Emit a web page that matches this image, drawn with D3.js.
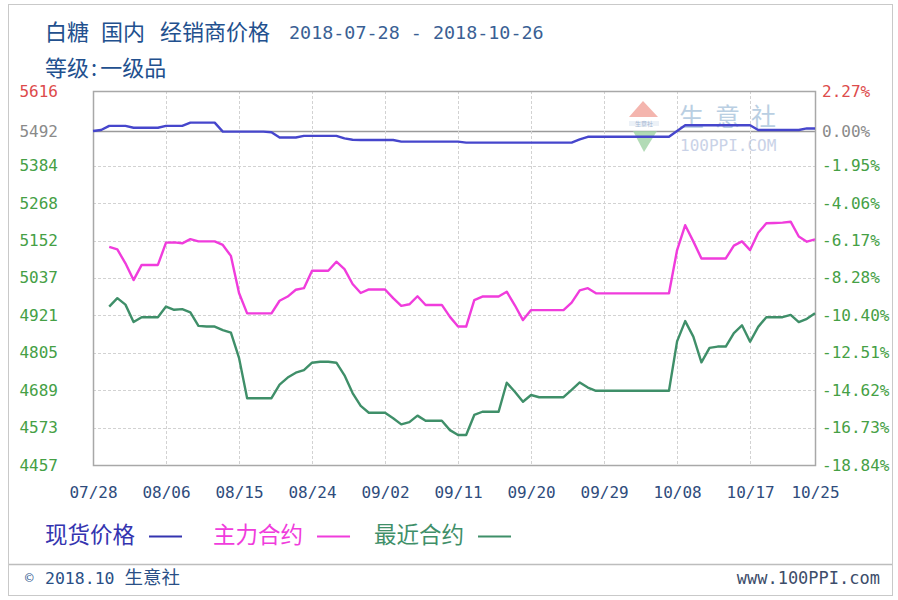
<!DOCTYPE html>
<html>
<head>
<meta charset="utf-8">
<script src="https://cdn.jsdelivr.net/npm/d3@7"></script>
<style>
  html, body { margin: 0; padding: 0; background: #fff; }
  svg { display: block; }
</style>
</head>
<body>
<svg id="chart" width="898" height="600"></svg>
<script>
// ---- data: daily values from 2018-07-28 (weekends and holidays carry the last quote) ----
const startDate = "2018-07-28";
const endDate = "2018-10-25";

const spotPrice = [
  5492, 5495, 5508, 5508, 5508, 5502, 5502, 5502, 5502, 5508,
  5508, 5508, 5518, 5518, 5518, 5518, 5490, 5490, 5490, 5490,
  5490, 5490, 5488, 5472, 5472, 5472, 5477, 5477, 5477, 5477,
  5477, 5469, 5465, 5464, 5464, 5464, 5464, 5464, 5459, 5459,
  5459, 5459, 5459, 5459, 5459, 5459, 5456, 5456, 5456, 5456,
  5456, 5456, 5456, 5456, 5456, 5456, 5456, 5456, 5456, 5456,
  5466, 5474, 5474, 5474, 5474, 5474, 5474, 5474, 5474, 5474,
  5474, 5474, 5492, 5510, 5510, 5510, 5510, 5510, 5510, 5510,
  5510, 5510, 5495, 5495, 5495, 5495, 5495, 5495, 5500, 5500
];

const mainContract = [
  null, null, 5133, 5125, 5082, 5030, 5077, 5077, 5077, 5146,
  5147, 5144, 5157, 5150, 5150, 5150, 5139, 5105, 4990, 4927,
  4927, 4927, 4927, 4966, 4979, 5000, 5005, 5059, 5059, 5059,
  5087, 5064, 5018, 4990, 5001, 5001, 5001, 4974, 4950, 4955,
  4980, 4953, 4953, 4953, 4916, 4886, 4886, 4968, 4979, 4979,
  4979, 4994, 4952, 4906, 4937, 4937, 4937, 4937, 4937, 4960,
  4998, 5005, 4989, 4989, 4989, 4989, 4989, 4989, 4989, 4989,
  4989, 4989, 5123, 5200, 5150, 5097, 5097, 5097, 5097, 5137,
  5150, 5123, 5177, 5206, 5207, 5208, 5211, 5165, 5149, 5156
];

const nearContract = [
  null, null, 4948, 4974, 4954, 4900, 4915, 4915, 4915, 4948,
  4938, 4940, 4930, 4888, 4886, 4886, 4875, 4867, 4789, 4664,
  4664, 4664, 4664, 4706, 4728, 4743, 4751, 4774, 4777, 4777,
  4774, 4735, 4680, 4640, 4619, 4619, 4619, 4602, 4583, 4590,
  4610, 4594, 4594, 4594, 4565, 4550, 4550, 4612, 4622, 4622,
  4622, 4712, 4684, 4653, 4674, 4667, 4667, 4667, 4667, 4690,
  4713, 4697, 4687, 4687, 4687, 4687, 4687, 4687, 4687, 4687,
  4687, 4687, 4840, 4903, 4855, 4775, 4820, 4824, 4824, 4866,
  4890, 4839, 4885, 4915, 4915, 4915, 4922, 4900, 4910, 4927
];

const priceTicks = [5616, 5492, 5384, 5268, 5152, 5037, 4921, 4805, 4689, 4573, 4457];
const changeTickLabels = ["2.27%", "0.00%", "-1.95%", "-4.06%", "-6.17%", "-8.28%",
                          "-10.40%", "-12.51%", "-14.62%", "-16.73%", "-18.84%"];
const dateTickLabels = ["07/28", "08/06", "08/15", "08/24", "09/02", "09/11",
                        "09/20", "09/29", "10/08", "10/17", "10/25"];
const basePrice = 5492;

const seriesNames = ["现货价格", "主力合约", "最近合约"];
const seriesColors = ["#4646cc", "#f03cdc", "#3f8f69"];
const legendColors = ["#3434b0", "#f03cdc", "#3f8f69"];

const titleWords = ["白糖", "国内", "经销商价格"];
const titleDates = "2018-07-28 - 2018-10-26";
const gradeLabel = "等级";
const gradeValue = "一级品";

// ---- layout ----
const W = 898, H = 600;
const plot = { left: 93, right: 815, top: 91, bottom: 465 };
const CJK = "'Noto Sans CJK SC', 'Noto Sans', sans-serif";
const MONO = "'DejaVu Sans Mono', 'Liberation Mono', monospace";

const svg = d3.select("#chart");
const parse = d3.timeParse("%Y-%m-%d");
const t0 = parse(startDate);
const dateAt = i => d3.timeDay.offset(t0, i);

const x = d3.scaleTime().domain([t0, parse(endDate)]).range([plot.left, plot.right]);
const y = d3.scaleLinear().domain([4457, 5616]).range([plot.bottom, plot.top]);

// outer frame and footer separator
svg.append("rect").attr("x", 8.5).attr("y", 4.5).attr("width", 884).attr("height", 591)
  .attr("fill", "#fff").attr("stroke", "#c9c9c9");
svg.append("line").attr("x1", 9).attr("x2", 892).attr("y1", 564.5).attr("y2", 564.5)
  .attr("stroke", "#bdbdbd").attr("stroke-width", 1.5);

// title block
const titleX = [45, 101, 160];
titleWords.forEach((w, i) => {
  svg.append("text").attr("x", titleX[i]).attr("y", 40)
    .attr("font-family", CJK).attr("font-size", 22).attr("fill", "#22508e").text(w);
});
svg.append("text").attr("x", 289).attr("y", 39)
  .attr("font-family", MONO).attr("font-size", 18.4).attr("fill", "#3a5f94").text(titleDates);
const grade = svg.append("text").attr("x", 45).attr("y", 76)
  .attr("font-family", CJK).attr("font-size", 22).attr("fill", "#22508e");
grade.append("tspan").text(gradeLabel);
grade.append("tspan").attr("dx", 2).text(":");
grade.append("tspan").attr("dx", 3).text(gradeValue);

// gridlines
const grid = svg.append("g");
priceTicks.filter(v => v !== 5616 && v !== 4457).forEach(v => {
  grid.append("line")
    .attr("x1", plot.left).attr("x2", plot.right)
    .attr("y1", Math.round(y(v)) + 0.5).attr("y2", Math.round(y(v)) + 0.5)
    .attr("stroke", v === basePrice ? "#9a9a9a" : "#d2d2d2")
    .attr("stroke-width", v === basePrice ? 1.5 : 1)
    .attr("stroke-dasharray", v === basePrice ? null : "3,2");
});
const tickDates = dateTickLabels.map(s => parse("2018-" + s.replace("/", "-")));
tickDates.slice(1, -1).forEach(d => {
  grid.append("line")
    .attr("x1", Math.round(x(d)) + 0.5).attr("x2", Math.round(x(d)) + 0.5)
    .attr("y1", plot.top).attr("y2", plot.bottom)
    .attr("stroke", "#d2d2d2").attr("stroke-dasharray", "3,2");
});

// watermark
const wm = svg.append("g").attr("opacity", 0.8);
wm.append("path").attr("d", "M643,101 L629,117 L658,117 Z").attr("fill", "#f2a39a");
wm.append("rect").attr("x", 629).attr("y", 121).attr("width", 30).attr("height", 5).attr("fill", "#e8eef6");
wm.append("text").attr("x", 644).attr("y", 126).attr("text-anchor", "middle")
  .attr("font-family", CJK).attr("font-size", 6).attr("fill", "#8fa6c8").text("生意社");
wm.append("path").attr("d", "M633,131 L657,131 L644,152 Z").attr("fill", "#9fd3a5");
wm.append("text").attr("x", 679).attr("y", 126).attr("font-family", CJK).attr("font-size", 25)
  .attr("letter-spacing", 11).attr("fill", "#a9c4dc").text("生意社");
wm.append("text").attr("x", 680).attr("y", 151).attr("font-family", MONO).attr("font-size", 16)
  .attr("fill", "#bcc8e2").text("100PPI.COM");

// plot frame
svg.append("rect")
  .attr("x", plot.left + 0.5).attr("y", plot.top + 0.5)
  .attr("width", plot.right - plot.left).attr("height", plot.bottom - plot.top)
  .attr("fill", "none").attr("stroke", "#a8a8a8").attr("stroke-width", 1.5);

// axes
function tickColor(i) { return i === 0 ? "#dd4b4b" : (i === 1 ? "#8a8a8a" : "#45a045"); }

const leftAxis = svg.append("g").attr("transform", `translate(${plot.left},0)`)
  .call(d3.axisLeft(y).tickValues(priceTicks).tickSize(0).tickPadding(35).tickFormat(d3.format("d")));
leftAxis.select(".domain").remove();
leftAxis.selectAll("text").attr("font-family", MONO).attr("font-size", 16)
  .attr("fill", (d, i) => tickColor(i));

const rightAxis = svg.append("g").attr("transform", `translate(${plot.right},0)`)
  .call(d3.axisRight(y).tickValues(priceTicks).tickSize(0).tickPadding(7)
    .tickFormat((d, i) => changeTickLabels[i]));
rightAxis.select(".domain").remove();
rightAxis.selectAll("text").attr("font-family", MONO).attr("font-size", 16)
  .attr("fill", (d, i) => tickColor(i));

const bottomAxis = svg.append("g").attr("transform", `translate(0,${plot.bottom})`)
  .call(d3.axisBottom(x).tickValues(tickDates).tickSize(0).tickPadding(22)
    .tickFormat((d, i) => dateTickLabels[i]));
bottomAxis.select(".domain").remove();
bottomAxis.selectAll("text").attr("font-family", MONO).attr("font-size", 16)
  .attr("fill", "#2f4c7c");

// series lines
const allSeries = [spotPrice, mainContract, nearContract];
const line = d3.line()
  .defined(d => d.v !== null)
  .x(d => x(d.date))
  .y(d => y(d.v));

const lines = svg.append("g");
[2, 1, 0].forEach(k => {
  const pts = allSeries[k].map((v, i) => ({ date: dateAt(i), v }));
  lines.append("path").datum(pts)
    .attr("fill", "none")
    .attr("stroke", seriesColors[k])
    .attr("stroke-width", 2.4)
    .attr("stroke-linejoin", "round")
    .attr("d", line);
});

// legend
const legendX = [45, 213, 374];
const legend = svg.append("g");
seriesNames.forEach((name, k) => {
  const t = legend.append("text").attr("x", legendX[k]).attr("y", 543)
    .attr("font-family", CJK).attr("font-size", 22.5).attr("fill", legendColors[k]).text(name);
  const w = t.node().getComputedTextLength();
  legend.append("line")
    .attr("x1", legendX[k] + w + 14).attr("x2", legendX[k] + w + 47)
    .attr("y1", 536.5).attr("y2", 536.5)
    .attr("stroke", legendColors[k]).attr("stroke-width", 2);
});

// footer
svg.append("text").attr("x", 25).attr("y", 583).attr("font-family", MONO).attr("font-size", 14)
  .attr("fill", "#3a5f94").text("©");
const foot = svg.append("text").attr("x", 45).attr("y", 584).attr("fill", "#2a4f86");
foot.append("tspan").attr("font-family", MONO).attr("font-size", 16.5).text("2018.10 ");
foot.append("tspan").attr("font-family", CJK).attr("font-size", 18.5).text("生意社");
svg.append("text").attr("x", 880).attr("y", 584).attr("text-anchor", "end")
  .attr("font-family", MONO).attr("font-size", 17).attr("fill", "#3d4d6a").text("www.100PPI.com");
</script>
</body>
</html>
